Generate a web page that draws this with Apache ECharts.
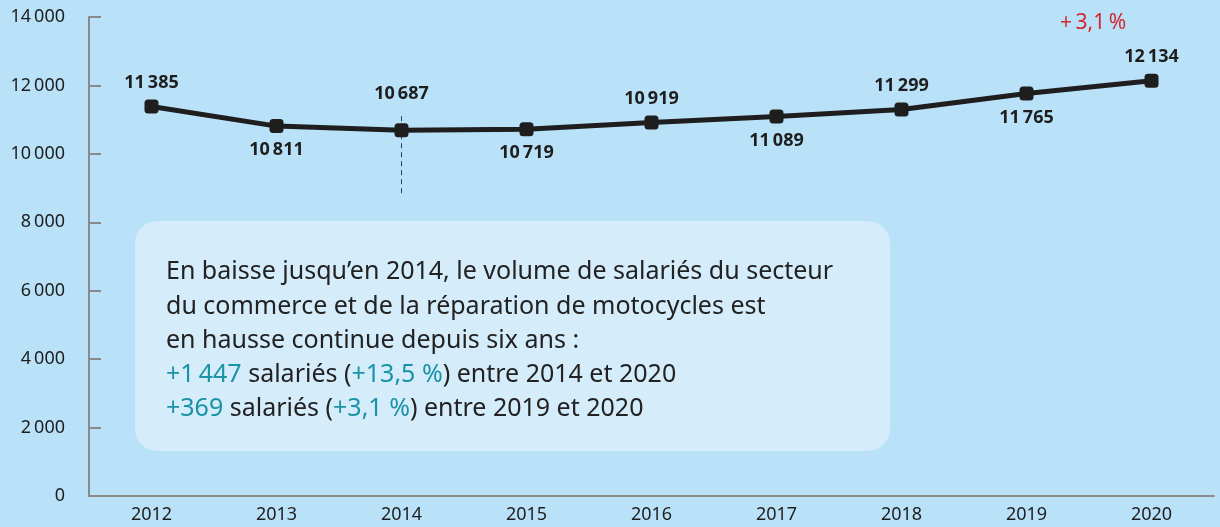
<!DOCTYPE html>
<html lang="fr">
<head>
    <meta charset="UTF-8">
    <title>Salariés commerce et réparation de motocycles</title>
    <script src="https://cdn.jsdelivr.net/npm/echarts@6/dist/echarts.min.js"></script>
    <style>
        html, body { margin: 0; padding: 0; height: 100%; background: #b9e1f8; }
        #main { width: 1220px; height: 527px; }
    </style>
</head>
<body>
<div id="main"></div>
<script>
    // données
    var annees = ['2012', '2013', '2014', '2015', '2016', '2017', '2018', '2019', '2020'];
    var salaries = [11385, 10811, 10687, 10719, 10919, 11089, 11299, 11765, 12134];
    // position des étiquettes (au-dessus / en dessous)
    var posLabels = ['top', 'bottom', 'top', 'bottom', 'top', 'bottom', 'top', 'bottom', 'top'];
    var yTicks = [0, 2000, 4000, 6000, 8000, 10000, 12000, 14000];

    var sombre = '#1e1e1e';
    var turquoise = '#1a93a6';
    var police = 'Noto Sans';

    function fmt(v) {
        // séparateur de milliers : espace fine
        return String(v).replace(/\B(?=(\d{3})+(?!\d))/g, '\u2009');
    }

    var points = salaries.map(function (v, i) {
        return {
            value: v,
            label: {
                position: posLabels[i],
                distance: i === 2 ? 20 : 8
            }
        };
    });

    var myChart = echarts.init(document.getElementById('main'));

    var option = {
        backgroundColor: '#b9e1f8',
        animation: false,
        textStyle: { fontFamily: police },
        grid: { left: 89, right: 6, top: 17, bottom: 31 },
        xAxis: {
            type: 'category',
            data: annees,
            boundaryGap: true,
            axisLine: { lineStyle: { color: '#8a8a8a', width: 2 } },
            axisTick: { inside: true, length: 12, lineStyle: { color: '#8a8a8a', width: 2 } },
            axisLabel: { color: '#1e1e1e', fontSize: 18, margin: 10 }
        },
        yAxis: {
            type: 'value',
            min: yTicks[0],
            max: yTicks[yTicks.length - 1],
            interval: 2000,
            splitLine: { show: false },
            axisLine: { show: true, lineStyle: { color: '#8a8a8a', width: 2 } },
            axisTick: { show: true, inside: true, length: 12, lineStyle: { color: '#8a8a8a', width: 2 } },
            axisLabel: {
                color: '#1e1e1e', fontSize: 18, margin: 24,
                formatter: function (v) { return fmt(v); }
            }
        },
        series: [{
            type: 'line',
            data: points,
            symbol: 'roundRect',
            symbolSize: 14,
            itemStyle: { color: sombre },
            lineStyle: { color: sombre, width: 5 },
            label: {
                show: true,
                color: sombre,
                fontSize: 18,
                fontWeight: 'bold',
                formatter: function (p) { return fmt(p.value); }
            },
            markLine: {
                silent: true,
                symbol: 'none',
                label: { show: false },
                lineStyle: { color: '#2a3a6a', type: [5, 4], width: 1 },
                data: [[{ coord: ['2014', 11100] }, { coord: ['2014', 8750] }]]
            },
            z: 5
        }],
        graphic: [
            {
                type: 'text',
                left: 1060,
                top: 13,
                style: { text: '+\u20093,1\u2009%', fill: '#d4262e', font: '21px "Noto Sans"' }
            },
            {
                type: 'group',
                left: 135,
                top: 221,
                children: [
                    {
                        type: 'rect',
                        shape: { x: 0, y: 0, width: 755, height: 230, r: 22 },
                        style: { fill: '#d5ecfb' }
                    },
                    {
                        type: 'text',
                        x: 31,
                        y: 34,
                        style: {
                            text: 'En baisse jusqu\u2019en 2014, le volume de salariés du secteur\n' +
                                'du commerce et de la réparation de motocycles est\n' +
                                'en hausse continue depuis six ans :\n' +
                                '{t|+1\u2009447} salariés ({t|+13,5 %}) entre 2014 et 2020\n' +
                                '{t|+369} salariés ({t|+3,1 %}) entre 2019 et 2020',
                            fill: '#222222',
                            font: '25px "Noto Sans"',
                            lineHeight: 34.3,
                            rich: {
                                t: { fill: turquoise, fontSize: 25, fontFamily: police }
                            }
                        }
                    }
                ]
            }
        ]
    };

    myChart.setOption(option);
</script>
</body>
</html>
